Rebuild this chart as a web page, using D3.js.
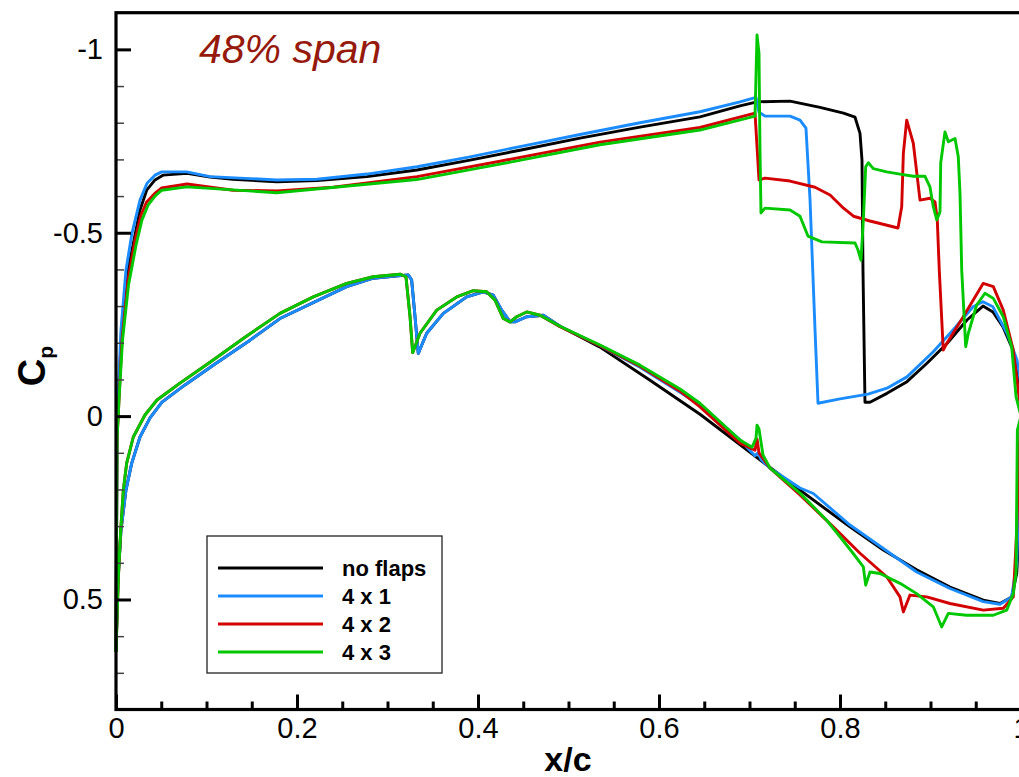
<!DOCTYPE html>
<html>
<head>
<meta charset="utf-8">
<script src="https://cdn.jsdelivr.net/npm/d3@7"></script>
<style>
  html, body { margin: 0; padding: 0; background: #fff; }
  svg { display: block; font-family: 'Liberation Sans', Arial, Helvetica, sans-serif; }
</style>
</head>
<body>
<svg id="chart" width="1019" height="777"></svg>
<script>
// series labels + colours
const seriesNames = ['no flaps', '4 x 1', '4 x 2', '4 x 3'];
const seriesColors = ['#000000', '#1a8cff', '#d20000', '#00c800'];

// axis ticks
const xMajor = [0, 0.2, 0.4, 0.6, 0.8, 1];
const xLabels = ['0', '0.2', '0.4', '0.6', '0.8', '1'];
const yMajor = [-1, -0.5, 0, 0.5];
const yLabels = ['-1', '-0.5', '0', '0.5'];

// Cp, [x/c, Cp]; upper (suction) surface then lower surface
const noFlapsUpper = [
  [0, 0.64], [0.0011, 0.065], [0.0028, -0.044], [0.0061, -0.235], [0.0122, -0.385], [0.0199, -0.48],
  [0.0265, -0.562], [0.0339, -0.616], [0.0431, -0.644], [0.0519, -0.657], [0.0785, -0.662],
  [0.1039, -0.652], [0.1293, -0.646], [0.1779, -0.639], [0.2221, -0.642], [0.2773, -0.653],
  [0.3326, -0.671], [0.3912, -0.698], [0.4464, -0.725], [0.5127, -0.758], [0.579, -0.788],
  [0.6453, -0.816], [0.6895, -0.846], [0.7083, -0.857], [0.7448, -0.859], [0.7779, -0.842],
  [0.8039, -0.826], [0.8166, -0.815], [0.8221, -0.771], [0.8243, -0.698], [0.8254, -0.398],
  [0.8276, -0.038], [0.8331, -0.038], [0.8519, -0.062], [0.874, -0.094], [0.8961, -0.144],
  [0.9182, -0.198], [0.9403, -0.262], [0.958, -0.3], [0.969, -0.284], [0.9801, -0.243],
  [0.9912, -0.18], [1.0, -0.07],
];
const noFlapsLower = [
  [0, 0.64], [0.0022, 0.447], [0.0055, 0.311], [0.011, 0.202], [0.0173, 0.129], [0.0265, 0.057],
  [0.0376, 0.005], [0.0508, -0.038], [0.0762, -0.085], [0.1094, -0.142], [0.1481, -0.207],
  [0.1812, -0.266], [0.2549, -0.353], [0.2843, -0.376], [0.323, -0.385], [0.3267, -0.371],
  [0.3304, -0.271], [0.334, -0.171], [0.3433, -0.226], [0.3617, -0.28], [0.3875, -0.325],
  [0.4059, -0.339], [0.4169, -0.33], [0.4262, -0.289], [0.4354, -0.257], [0.4409, -0.257],
  [0.4538, -0.271], [0.4722, -0.275], [0.4906, -0.245], [0.5348, -0.188], [0.5901, -0.098],
  [0.6453, -0.005], [0.7083, 0.113], [0.7558, 0.202], [0.811, 0.302], [0.8479, 0.365],
  [0.8847, 0.419], [0.9215, 0.466], [0.9583, 0.502], [0.9768, 0.511], [0.9897, 0.493],
  [0.9953, 0.429], [0.998, 0.3], [1.0, -0.07],
];
const flaps41Upper = [
  [0, 0.64], [0.0011, 0.065], [0.0022, -0.044], [0.0055, -0.235], [0.011, -0.398], [0.0177, -0.499],
  [0.0265, -0.589], [0.0343, -0.635], [0.0431, -0.657], [0.0505, -0.666], [0.0781, -0.666],
  [0.1039, -0.653], [0.137, -0.649], [0.1776, -0.644], [0.2221, -0.646], [0.2773, -0.66],
  [0.3326, -0.68], [0.3912, -0.707], [0.4464, -0.735], [0.5127, -0.768], [0.579, -0.8],
  [0.6453, -0.83], [0.6895, -0.857], [0.7072, -0.869], [0.7105, -0.829], [0.7171, -0.818],
  [0.7448, -0.818], [0.7558, -0.807], [0.7624, -0.785], [0.7669, -0.589], [0.7724, -0.235],
  [0.7757, -0.035], [0.8, -0.047], [0.831, -0.06], [0.8519, -0.076], [0.874, -0.107],
  [0.9028, -0.175], [0.9249, -0.235], [0.947, -0.298], [0.958, -0.312], [0.969, -0.298],
  [0.9845, -0.226], [0.9956, -0.153], [1.0, -0.085],
];
const flaps41Lower = [
  [0, 0.64], [0.0022, 0.447], [0.0055, 0.311], [0.011, 0.202], [0.0173, 0.129], [0.0265, 0.057],
  [0.0376, 0.005], [0.0508, -0.038], [0.0762, -0.085], [0.1094, -0.142], [0.1481, -0.207],
  [0.1812, -0.266], [0.2549, -0.353], [0.2843, -0.376], [0.323, -0.385], [0.3267, -0.371],
  [0.3304, -0.271], [0.334, -0.171], [0.3433, -0.226], [0.3617, -0.28], [0.3875, -0.325],
  [0.4059, -0.339], [0.4169, -0.33], [0.4262, -0.289], [0.4354, -0.257], [0.4409, -0.257],
  [0.4538, -0.271], [0.4722, -0.275], [0.4906, -0.245], [0.5348, -0.192], [0.579, -0.133],
  [0.6232, -0.065], [0.6453, -0.03], [0.6895, 0.065], [0.7061, 0.108], [0.7094, 0.1],
  [0.7127, 0.118], [0.7227, 0.142], [0.7558, 0.196], [0.7705, 0.211], [0.811, 0.297],
  [0.8479, 0.361], [0.8847, 0.425], [0.9215, 0.47], [0.9583, 0.506], [0.9768, 0.513],
  [0.9897, 0.493], [0.9953, 0.401], [0.998, 0.2], [1.0, -0.085],
];
const flaps42Upper = [
  [0, 0.64], [0.0011, 0.065], [0.0033, -0.044], [0.0066, -0.207], [0.0133, -0.371], [0.021, -0.48],
  [0.0276, -0.548], [0.0339, -0.584], [0.0431, -0.608], [0.0505, -0.622], [0.0785, -0.633],
  [0.1293, -0.616], [0.1779, -0.614], [0.2398, -0.624], [0.3326, -0.653], [0.4243, -0.695],
  [0.5348, -0.747], [0.6453, -0.787], [0.7061, -0.826], [0.7105, -0.644], [0.7171, -0.649],
  [0.7448, -0.641], [0.7724, -0.624], [0.789, -0.603], [0.8039, -0.567], [0.8149, -0.545],
  [0.8331, -0.532], [0.8641, -0.513], [0.8682, -0.571], [0.87, -0.716], [0.8737, -0.807],
  [0.881, -0.744], [0.8884, -0.589], [0.8994, -0.594], [0.905, -0.584], [0.9075, -0.535],
  [0.9097, -0.398], [0.9141, -0.18], [0.9179, -0.198], [0.9362, -0.271], [0.9583, -0.362],
  [0.9694, -0.353], [0.9804, -0.289], [0.9915, -0.18], [0.9978, -0.053], [1.0, -0.02],
];
const flaps42Lower = [
  [0, 0.64], [0.0025, 0.447], [0.0052, 0.311], [0.0081, 0.202], [0.0118, 0.128], [0.0191, 0.057],
  [0.032, -0.003], [0.0453, -0.044], [0.0707, -0.09], [0.1039, -0.147], [0.1425, -0.215],
  [0.1812, -0.28], [0.218, -0.325], [0.2549, -0.362], [0.2843, -0.38], [0.3138, -0.387],
  [0.3204, -0.38], [0.3249, -0.271], [0.3278, -0.173], [0.3359, -0.226], [0.3544, -0.289],
  [0.3765, -0.325], [0.3948, -0.342], [0.4096, -0.339], [0.4188, -0.316], [0.428, -0.266],
  [0.4354, -0.257], [0.4428, -0.271], [0.4538, -0.284], [0.4685, -0.275], [0.4906, -0.244],
  [0.5348, -0.192], [0.579, -0.136], [0.6232, -0.068], [0.6453, -0.025], [0.6895, 0.074],
  [0.7061, 0.093], [0.7083, 0.062], [0.7105, 0.1], [0.7227, 0.142], [0.7558, 0.215],
  [0.7926, 0.302], [0.8221, 0.374], [0.8516, 0.438], [0.8663, 0.493], [0.87, 0.534],
  [0.8773, 0.488], [0.8958, 0.493], [0.9215, 0.511], [0.9583, 0.529], [0.9804, 0.524],
  [0.9915, 0.493], [0.9953, 0.311], [0.998, 0.1], [1.0, -0.02],
];
const flaps43Upper = [
  [0, 0.64], [0.0011, 0.065], [0.0033, -0.044], [0.0072, -0.207], [0.0138, -0.357], [0.0221, -0.466],
  [0.0287, -0.535], [0.0354, -0.575], [0.0431, -0.6], [0.0505, -0.616], [0.0781, -0.625],
  [0.1776, -0.609], [0.3323, -0.645], [0.4243, -0.687], [0.5348, -0.74], [0.6453, -0.78],
  [0.7061, -0.818], [0.7083, -1.039], [0.7105, -0.99], [0.7116, -0.725], [0.7127, -0.554],
  [0.7171, -0.567], [0.7448, -0.562], [0.7558, -0.545], [0.7646, -0.491], [0.7801, -0.475],
  [0.8166, -0.472], [0.8199, -0.453], [0.8232, -0.425], [0.8258, -0.535], [0.8284, -0.68],
  [0.8313, -0.691], [0.8368, -0.675], [0.8516, -0.666], [0.8663, -0.66], [0.881, -0.654],
  [0.8939, -0.654], [0.8994, -0.625], [0.9031, -0.571], [0.9069, -0.535], [0.9105, -0.557],
  [0.9113, -0.691], [0.916, -0.775], [0.9197, -0.748], [0.9271, -0.757], [0.9307, -0.707],
  [0.9326, -0.607], [0.9345, -0.398], [0.9389, -0.189], [0.9418, -0.226], [0.951, -0.303],
  [0.9602, -0.335], [0.9694, -0.321], [0.9804, -0.271], [0.9897, -0.189], [0.9945, -0.053],
  [1.0, 0.0],
];
const flaps43Lower = [
  [0, 0.64], [0.0025, 0.447], [0.0052, 0.311], [0.0081, 0.202], [0.0118, 0.128], [0.0191, 0.057],
  [0.032, -0.003], [0.0453, -0.044], [0.0707, -0.09], [0.1039, -0.147], [0.1425, -0.215],
  [0.1812, -0.28], [0.218, -0.325], [0.2549, -0.362], [0.2843, -0.38], [0.3138, -0.387],
  [0.3204, -0.38], [0.3249, -0.271], [0.3278, -0.173], [0.3359, -0.226], [0.3544, -0.289],
  [0.3765, -0.325], [0.3948, -0.342], [0.4096, -0.339], [0.4188, -0.316], [0.428, -0.266],
  [0.4354, -0.257], [0.4428, -0.271], [0.4538, -0.284], [0.4685, -0.275], [0.4906, -0.245],
  [0.5348, -0.194], [0.579, -0.139], [0.6232, -0.074], [0.6453, -0.035], [0.6895, 0.065],
  [0.7028, 0.085], [0.7072, 0.06], [0.7083, 0.025], [0.7105, 0.035], [0.7149, 0.106],
  [0.7227, 0.142], [0.7558, 0.21], [0.7853, 0.284], [0.8, 0.329],
  [0.8144, 0.374], [0.8258, 0.411], [0.8284, 0.461], [0.8331, 0.425], [0.8442, 0.429],
  [0.8663, 0.456], [0.8847, 0.484], [0.9031, 0.52], [0.9124, 0.575], [0.9197, 0.538],
  [0.94, 0.543], [0.9694, 0.543], [0.9842, 0.529], [0.9915, 0.484], [0.9945, 0.428],
  [0.9953, 0.22], [0.996, 0.038], [1.0, 0.0],
];

const series = [
  { name: seriesNames[0], color: seriesColors[0], upper: noFlapsUpper, lower: noFlapsLower },
  { name: seriesNames[1], color: seriesColors[1], upper: flaps41Upper, lower: flaps41Lower },
  { name: seriesNames[2], color: seriesColors[2], upper: flaps42Upper, lower: flaps42Lower },
  { name: seriesNames[3], color: seriesColors[3], upper: flaps43Upper, lower: flaps43Lower },
];

const svg = d3.select('#chart');
const plot = { left: 116, right: 1021, top: 12.7, bottom: 709.5 };

const xScale = d3.scaleLinear().domain([0, 1]).range([plot.left, plot.right]);
const yScale = d3.scaleLinear().domain([-1.1, 0.8]).range([plot.top, plot.bottom]);

// minor ticks
const xMinor = d3.range(0, 1.0001, 0.05).filter((v) => Math.abs(v * 5 - Math.round(v * 5)) > 1e-6);
const yMinor = d3.range(-1.0, 0.75, 0.1).filter((v) => Math.abs(v * 2 - Math.round(v * 2)) > 1e-6);

// curves
const line = d3.line().x((d) => xScale(d[0])).y((d) => yScale(d[1]));
const curves = svg.append('g').attr('class', 'curves');
series.forEach((s) => {
  [s.upper, s.lower].forEach((pts) => {
    curves.append('path')
      .attr('d', line(pts))
      .attr('fill', 'none')
      .attr('stroke', s.color)
      .attr('stroke-width', 2.9)
      .attr('stroke-linejoin', 'round')
      .attr('stroke-linecap', 'round');
  });
});

// axes
const yAxisMinor = d3.axisLeft(yScale).tickValues(yMinor).tickSize(-8).tickSizeOuter(0).tickFormat('');
const yAxisMajor = d3.axisLeft(yScale).tickValues(yMajor).tickSize(-15).tickSizeOuter(0)
  .tickPadding(13).tickFormat((d, i) => yLabels[i]);
const xAxisMinor = d3.axisBottom(xScale).tickValues(xMinor).tickSize(-8).tickSizeOuter(0).tickFormat('');
const xAxisMajor = d3.axisBottom(xScale).tickValues(xMajor).tickSize(-15).tickSizeOuter(0)
  .tickPadding(8).tickFormat((d, i) => xLabels[i]);

const gy = svg.append('g').attr('transform', `translate(${plot.left},0)`);
gy.append('g').call(yAxisMinor);
gy.append('g').call(yAxisMajor);
const gx = svg.append('g').attr('transform', `translate(0,${plot.bottom})`);
gx.append('g').call(xAxisMinor);
gx.append('g').call(xAxisMajor);

svg.selectAll('.domain').remove();
[gy, gx].forEach((g) => {
  g.selectAll('g:first-child .tick line').attr('stroke', '#444').attr('stroke-width', 1.5);
  g.selectAll('g:last-child .tick line').attr('stroke', '#000').attr('stroke-width', 3);
  g.selectAll('text').attr('font-size', 29).attr('fill', '#000')
    .attr('font-family', "'Liberation Sans', Arial, sans-serif");
});

// frame
svg.append('rect')
  .attr('x', plot.left).attr('y', plot.top)
  .attr('width', plot.right - plot.left).attr('height', plot.bottom - plot.top)
  .attr('fill', 'none').attr('stroke', '#000').attr('stroke-width', 3.2);

// axis titles
svg.append('text')
  .attr('x', 568).attr('y', 771)
  .attr('text-anchor', 'middle')
  .attr('font-size', 34).attr('font-weight', 'bold')
  .text('x/c');

const cp = svg.append('text')
  .attr('transform', 'translate(45,366) rotate(-90)')
  .attr('text-anchor', 'middle')
  .attr('font-size', 38).attr('font-weight', 'bold');
cp.append('tspan').text('C');
cp.append('tspan').attr('font-size', 21).attr('dy', 8).text('p');

// title
svg.append('text')
  .attr('x', 199).attr('y', 63)
  .attr('font-size', 41).attr('font-style', 'italic')
  .attr('fill', '#961a0c')
  .text('48% span');

// legend
const legend = svg.append('g').attr('transform', 'translate(207,536)');
legend.append('rect')
  .attr('width', 235).attr('height', 137)
  .attr('fill', '#fff').attr('stroke', '#222').attr('stroke-width', 1.3);
series.forEach((s, i) => {
  const ly = 32 + i * 28;
  legend.append('line')
    .attr('x1', 11).attr('x2', 116).attr('y1', ly).attr('y2', ly)
    .attr('stroke', s.color).attr('stroke-width', 3);
  legend.append('text')
    .attr('x', 135).attr('y', ly + 7.5)
    .attr('font-size', 22).attr('font-weight', 'bold')
    .text(s.name);
});
</script>
</body>
</html>
